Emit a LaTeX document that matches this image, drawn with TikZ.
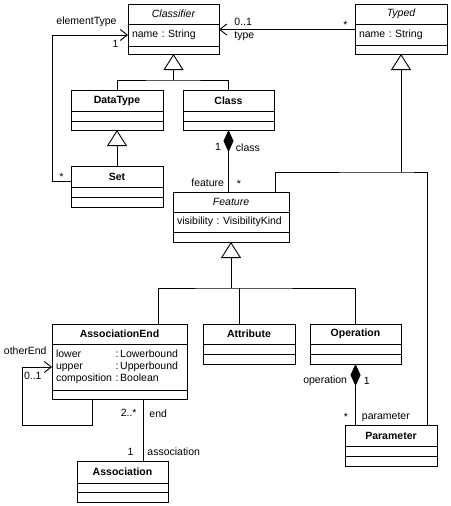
\documentclass[tikz,border=0pt]{standalone}
\usepackage{fontspec}
\setmainfont{Liberation Sans}
\usetikzlibrary{arrows.meta, positioning}
\tikzset{
  clshead/.style={draw, line width=0.9pt, inner sep=0pt, outer sep=0pt, text width=#1, align=center, minimum height=21pt, font=\bfseries},
  clsbody/.style={draw, line width=0.9pt, inner xsep=4pt, inner ysep=0pt, outer sep=0pt, text width=#1, align=left, minimum height=10pt},
  assoc/.style={line width=0.9pt},
  gen/.style={line width=0.9pt, -{Triangle[open, length=16pt, width=20pt]}},
  nav/.style={line width=0.9pt, -{Straight Barb[length=7pt, width=11pt]}},
  comp/.style={line width=0.9pt, {Diamond[length=22pt, width=10pt]}-},
  lbl/.style={inner sep=1pt},
}
\frenchspacing

\begin{document}
\fontsize{10.5}{12}\selectfont
\begin{tikzpicture}[x=1pt, y=-1pt]
  \useasboundingbox (0,0) rectangle (450,506);

  % Classifier and Typed
  \node[clshead=91pt, anchor=north west, minimum height=20pt, font=\itshape] (classifier) at (128,4) {Classifier};
  \node[clsbody=83pt, minimum height=22pt, below=0pt of classifier] (classifier-a) {name : String};
  \node[clsbody=83pt, minimum height=8pt, below=0pt of classifier-a] (classifier-o) {};

  \node[clshead=92pt, anchor=north west, minimum height=20pt, font=\itshape] (typed) at (355,4) {Typed};
  \node[clsbody=84pt, minimum height=21pt, below=0pt of typed] (typed-a) {name : String};
  \node[clsbody=84pt, minimum height=9pt, below=0pt of typed-a] (typed-o) {};

  % DataType, Class, Set
  \node[clshead=92pt, anchor=north west] (datatype) at (71,90) {DataType};
  \node[clsbody=84pt, below=0pt of datatype] (datatype-a) {};
  \node[clsbody=84pt, minimum height=9pt, below=0pt of datatype-a] (datatype-o) {};

  \node[clshead=91pt, anchor=north west] (class) at (183,90) {Class};
  \node[clsbody=83pt, below=0pt of class] (class-a) {};
  \node[clsbody=83pt, minimum height=9pt, below=0pt of class-a] (class-o) {};

  \node[clshead=92pt, anchor=north west] (set) at (71,166) {Set};
  \node[clsbody=84pt, below=0pt of set] (set-a) {};
  \node[clsbody=84pt, below=0pt of set-a] (set-o) {};

  % Feature
  \node[clshead=116pt, anchor=north west, minimum height=20pt, font=\itshape] (feature) at (173,192) {Feature};
  \node[clsbody=108pt, minimum height=20pt, below=0pt of feature] (feature-a) {visibility : VisibilityKind};
  \node[clsbody=108pt, below=0pt of feature-a] (feature-o) {};

  % AssociationEnd, Attribute, Operation
  \node[clshead=135pt, anchor=north west, minimum height=20pt] (assocend) at (52,324) {AssociationEnd};
  \node[clsbody=127pt, minimum height=46pt, below=0pt of assocend] (assocend-a)
    {\begin{tabular}{@{}l@{ }l@{}}lower & :\,Lowerbound\\ upper & :\,Upperbound\\ composition & :\,Boolean\end{tabular}};
  \node[clsbody=127pt, minimum height=9pt, below=0pt of assocend-a] (assocend-o) {};

  \node[clshead=92pt, anchor=north west, minimum height=20pt] (attribute) at (203,324) {Attribute};
  \node[clsbody=84pt, below=0pt of attribute] (attribute-a) {};
  \node[clsbody=84pt, below=0pt of attribute-a] (attribute-o) {};

  \node[clshead=91pt, anchor=north west, minimum height=20pt] (operation) at (310,324) {Operation};
  \node[clsbody=83pt, below=0pt of operation] (operation-a) {};
  \node[clsbody=83pt, below=0pt of operation-a] (operation-o) {};

  % Parameter, Association
  \node[clshead=92pt, anchor=north west] (param) at (345,425) {Parameter};
  \node[clsbody=84pt, below=0pt of param] (param-a) {};
  \node[clsbody=84pt, below=0pt of param-a] (param-o) {};

  \node[clshead=91pt, anchor=north west, minimum height=22pt] (association) at (77,461) {Association};
  \node[clsbody=83pt, minimum height=9pt, below=0pt of association] (association-a) {};
  \node[clsbody=83pt, below=0pt of association-a] (association-o) {};

  % generalizations
  \coordinate (g1) at (classifier-o.south |- 0,80);
  \draw[gen] (g1) -- (classifier-o.south);
  \draw[assoc] (datatype.north) |- (g1) -| (class.north);
  \draw[gen] (set.north) -- (datatype-o.south);

  \coordinate (t1) at (typed-o.south |- 0,172);
  \draw[gen] (t1) -- (typed-o.south);
  \draw[assoc] ([xshift=44pt]feature.north) |- (t1) -| ([xshift=36pt]param.north);

  \coordinate (f1) at (feature-o.south |- 0,288);
  \draw[gen] (f1) -- (feature-o.south);
  \draw[assoc] ([xshift=38.5pt]assocend.north) |- (f1) -| (operation.north);
  \draw[assoc] ([xshift=-10pt]attribute.north) -- ([xshift=-10pt]attribute.north |- f1);

  % associations
  \draw[nav] ([yshift=-5pt]set.west) -- node[lbl, above] {*} ++(-19,0) |- (classifier-a.west)
    node[lbl, anchor=south east, xshift=-10pt, yshift=7pt] {elementType}
    node[lbl, anchor=north east, xshift=-8pt, yshift=-4pt] {1};
  \draw[nav] ([yshift=5pt]typed-a.west) -- node[lbl, pos=0.07, above] {*} ([yshift=5pt]typed-a.west -| classifier-a.east)
    node[lbl, anchor=south west, xshift=14pt, yshift=2pt] {0..1}
    node[lbl, anchor=north west, xshift=14pt, yshift=-1pt] {type};
  \draw[comp] (class-o.south) -- (class-o.south |- feature.north)
    node[lbl, pos=0.27, left=6pt] {1}
    node[lbl, pos=0.29, right=6pt] {class}
    node[lbl, pos=0.85, left=3pt] {feature}
    node[lbl, pos=0.87, right=7pt] {*};
  \draw[comp] (operation-o.south) -- (operation-o.south |- param.north)
    node[lbl, pos=0.28, left=7pt] {operation}
    node[lbl, pos=0.28, right=7pt] {1}
    node[lbl, pos=0.87, left=6pt] {*}
    node[lbl, pos=0.87, right=5pt] {parameter};
  \draw[nav] ([xshift=-27.5pt]assocend-o.south) -- ++(0,26) -- ++(-70,0) |- (assocend-a.west)
    node[lbl, anchor=south east, xshift=-4pt, yshift=11pt] {otherEnd}
    node[lbl, anchor=north east, xshift=-9pt, yshift=-4pt] {0..1};
  \draw[assoc] ([xshift=23.5pt]assocend-o.south) -- ([xshift=20.5pt]association.north)
    node[lbl, pos=0.23, left=5pt] {2..*}
    node[lbl, pos=0.23, right=5pt] {end}
    node[lbl, pos=0.85, left=8pt] {1}
    node[lbl, pos=0.85, right=3pt] {association};
\end{tikzpicture}
\end{document}
